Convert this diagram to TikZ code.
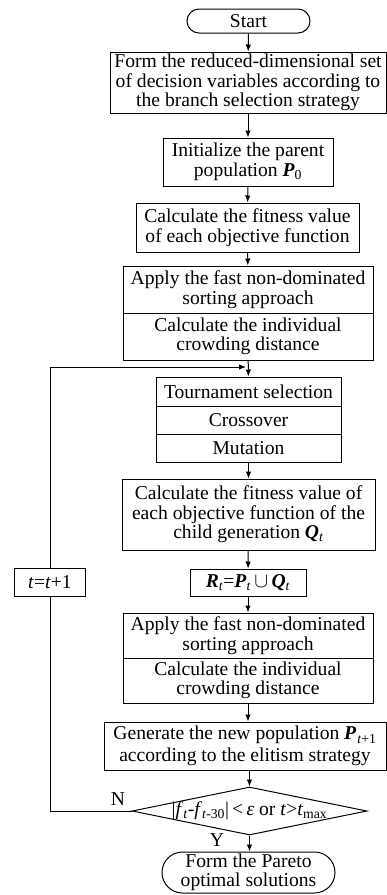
\documentclass[tikz,border=0pt]{standalone}
\usepackage{fontspec}
\setmainfont{Liberation Serif}
\usetikzlibrary{shapes.geometric,arrows.meta}

\newcommand{\bv}[1]{\textbf{\textit{#1}}}
\newcommand{\sub}[1]{\textsubscript{#1}}

\begin{document}
\begin{tikzpicture}[x=1pt, y=-1pt, line width=1pt,
  every node/.style={font=\fontsize{19.6}{19.5}\selectfont},
  box/.style={draw, align=center, inner sep=0pt},
  pill/.style={box, rounded corners=#1},
  arr/.style={-{Latex[length=7pt,width=5.5pt]}}]
\useasboundingbox (0,0) rectangle (387,895);

% main column
\node[pill=12pt, minimum width=123pt, minimum height=24pt] (start) at (248.5,21) {Start};
\node[box, minimum width=276pt, minimum height=61pt] (form) at (248,82.5)
  {Form the reduced-dimensional set\\ of decision variables according to\\ the branch selection strategy};
\node[box, minimum width=170pt, minimum height=48pt] (init) at (248,162)
  {Initialize the parent\\ population \bv{P}\sub{0}};
\node[box, minimum width=223pt, minimum height=49pt] (fit) at (247.5,227.5)
  {Calculate the fitness value\\ of each objective function};
\node[box, minimum width=250pt, minimum height=47pt] (sorta) at (248,289.5)
  {Apply the fast non-dominated\\ sorting approach};
\node[box, minimum width=250pt, minimum height=47pt] (crowda) at (248,336.5)
  {Calculate the individual\\ crowding distance};
\node[box, minimum width=185pt, minimum height=29pt] (tour) at (248.5,391.5) {Tournament selection};
\node[box, minimum width=185pt, minimum height=28pt] (cross) at (248.5,420) {Crossover};
\node[box, minimum width=185pt, minimum height=28pt] (mut) at (248.5,448) {Mutation};
\node[box, minimum width=253pt, minimum height=71pt] (fitc) at (248.5,514.5)
  {Calculate the fitness value of\\ each objective function of the\\ child generation \bv{Q}\sub{\textit{t}}};
\node[box, minimum width=116pt, minimum height=27pt] (rset) at (248,582.5)
  {\bv{R}\sub{\textit{t}}=\bv{P}\sub{\textit{t}}\,$\cup$\,\bv{Q}\sub{\textit{t}}};
\node[box, minimum width=250pt, minimum height=45pt] (sortb) at (248,635.5)
  {Apply the fast non-dominated\\ sorting approach};
\node[box, minimum width=250pt, minimum height=45pt] (crowdb) at (248,680.5)
  {Calculate the individual\\ crowding distance};
\node[box, minimum width=282pt, minimum height=48pt, font=\fontsize{19.6}{21.5}\selectfont] (gen) at (245,746)
  {Generate the new population \bv{P}\kern1pt\sub{\textit{t}+1}\\ according to the elitism strategy};
\node[draw, diamond, inner sep=0pt, minimum width=235pt, minimum height=48pt] (dec) at (249.5,811) {};
\node at (dec) {|\textit{f}\sub{\textit{t}}-\textit{f}\sub{\textit{t}-30}|\,<\,\textit{ε} or \textit{t}>\textit{t}\sub{max}};
\node[pill=20.5pt, minimum width=173pt, minimum height=41pt] (stop) at (248.5,872.5)
  {Form the Pareto\\ optimal solutions};

% loop
\node[box, minimum width=71pt, minimum height=28pt] (tinc) at (50,582) {\textit{t}=\textit{t}+1};
\coordinate (join) at (246,367);

\draw[arr] (start) -- (form);
\draw[arr] (form) -- (init);
\draw[arr] (init) -- (fit);
\draw[arr] (fit) -- (sorta);
\draw[arr] (crowda) -- (tour);
\draw[arr] (mut) -- (fitc);
\draw[arr] (fitc) -- (rset);
\draw[arr] (rset) -- (sortb);
\draw[arr] (crowdb.south) -- (gen.north -| crowdb.south);
\draw[arr] (gen.south -| dec.north) -- (dec.north);
\draw[arr] (dec.south) -- (stop.north -| dec.south);
\draw (dec.west) -| (tinc.south);
\draw[arr] (tinc.north) |- (join);
\node at (118,799) {N};
\node at (217,840) {Y};
\end{tikzpicture}
\end{document}
